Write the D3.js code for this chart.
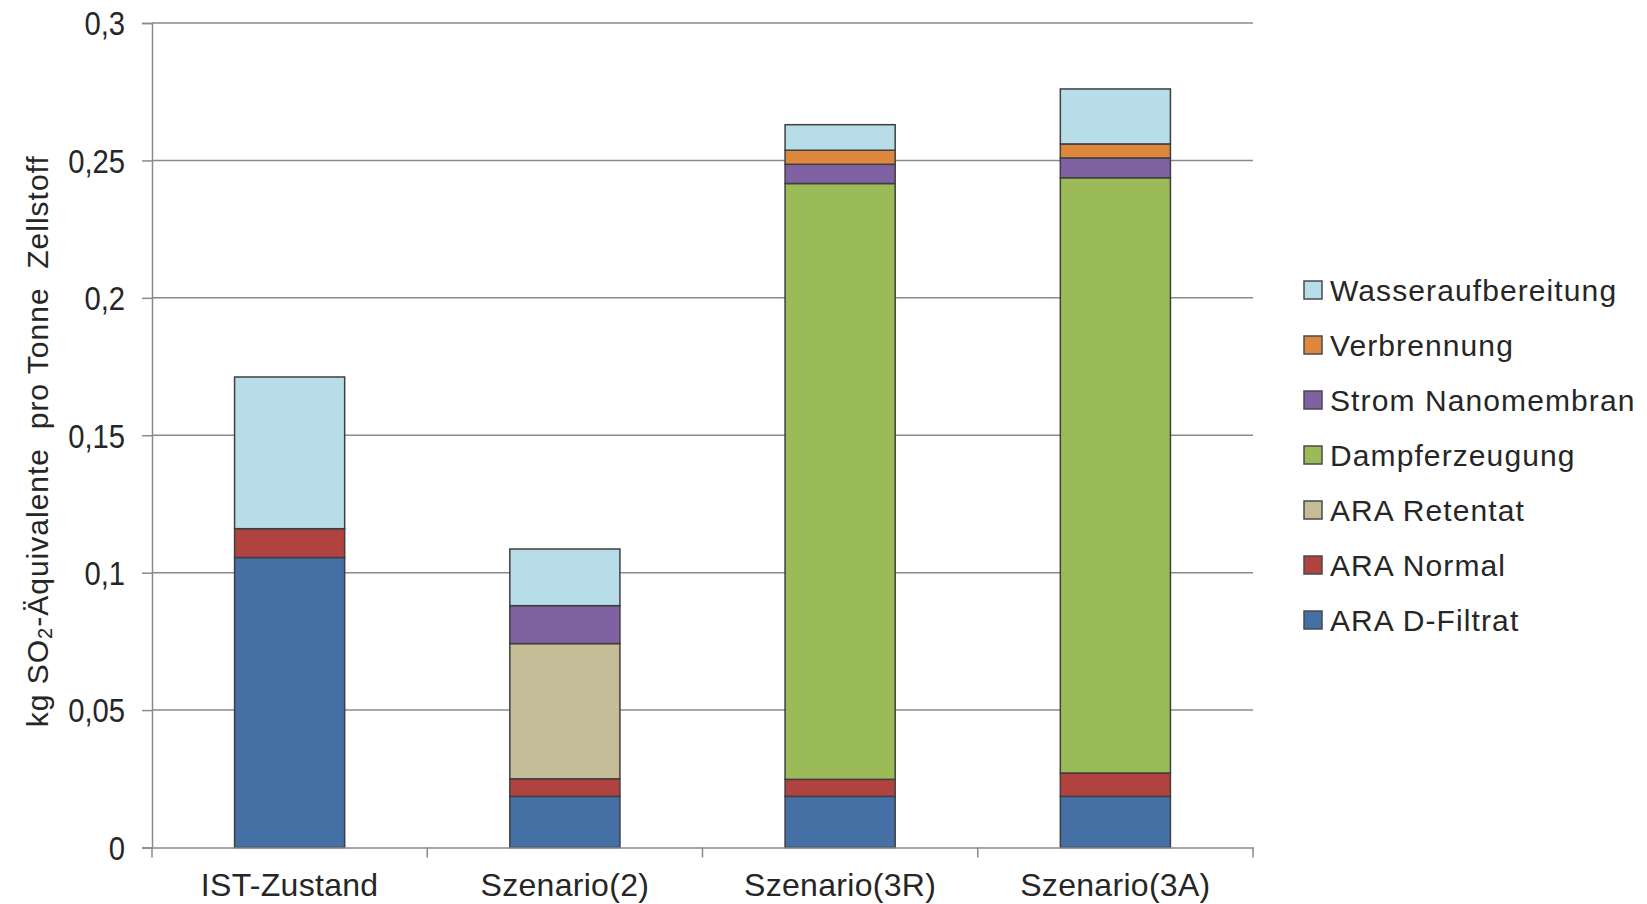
<!DOCTYPE html>
<html>
<head>
<meta charset="utf-8">
<script src="https://cdn.jsdelivr.net/npm/d3@7/dist/d3.min.js"></script>
<style>
  html, body { margin: 0; padding: 0; background: #fff; }
  svg { display: block; font-family: "Liberation Sans", Arial, sans-serif; }
</style>
</head>
<body>
<svg id="chart" width="1647" height="904"></svg>
<script>
// ---- data ----
const categories = ["IST-Zustand", "Szenario(2)", "Szenario(3R)", "Szenario(3A)"];
const seriesNames = ["ARA D-Filtrat", "ARA Normal", "ARA Retentat", "Dampferzeugung", "Strom Nanomembran", "Verbrennung", "Wasseraufbereitung"];
const araDFiltrat       = [0.1055, 0.0186, 0.0186, 0.0186];
const araNormal         = [0.0105, 0.0064, 0.0062, 0.0085];
const araRetentat       = [0,      0.0492, 0,      0     ];
const dampferzeugung    = [0,      0,      0.2168, 0.2166];
const stromNanomembran  = [0,      0.0138, 0.0070, 0.0072];
const verbrennung       = [0,      0,      0.0051, 0.0051];
const wasseraufbereitung= [0.0552, 0.0206, 0.0093, 0.0200];
const seriesColors = ["#4470a6", "#b0423f", "#c4bd97", "#9bbb59", "#7f62a1", "#de883d", "#b7dde8"];
const yTicks = [0, 0.05, 0.1, 0.15, 0.2, 0.25, 0.3];
const yTitle = ["kg SO", "2", "-Äquivalente  pro Tonne  Zellstoff"];

const seriesValues = [araDFiltrat, araNormal, araRetentat, dampferzeugung, stromNanomembran, verbrennung, wasseraufbereitung];

(function () {
// ---- layout ----
const svg = d3.select("#chart");
const mLeft = 152, mRight = 1253, mTop = 23, mBottom = 847.5;
const textColor = "#262626";
const lineColor = "#8a8a8a";
const ff = '"Liberation Sans", Arial, sans-serif';
const squeeze = 0.86;

const x = d3.scaleBand().domain(categories).range([mLeft, mRight]).paddingInner(0.6).paddingOuter(0.3);
const y = d3.scaleLinear().domain([0, 0.3]).range([mBottom, mTop]);

const fmt = d => String(+d.toFixed(2)).replace(".", ",");

// y axis ticks + labels
const yAxis = d3.axisLeft(y).tickValues(yTicks).tickFormat(fmt).tickSize(10).tickPadding(17);
const gy = svg.append("g").attr("transform", `translate(${mLeft},0)`).call(yAxis);
gy.select(".domain").attr("stroke", lineColor).attr("stroke-width", 1.5);
gy.selectAll(".tick line").attr("stroke", lineColor).attr("stroke-width", 1.5);
gy.selectAll(".tick text").attr("fill", textColor).attr("font-size", 34)
  .attr("font-family", ff).attr("dy", "0.35em")
  .attr("x", -27 / squeeze)
  .attr("transform", `scale(${squeeze},1)`);

// gridlines
svg.append("g").selectAll("line").data(yTicks.filter(d => d > 0)).join("line")
  .attr("x1", mLeft).attr("x2", mRight)
  .attr("y1", d => y(d)).attr("y2", d => y(d))
  .attr("stroke", lineColor).attr("stroke-width", 1.5);

// stacked bars
const rows = categories.map((c, i) => {
  const r = { cat: c };
  seriesNames.forEach((s, j) => r[s] = seriesValues[j][i]);
  return r;
});
const stack = d3.stack().keys(seriesNames)(rows);

const gBars = svg.append("g");
stack.forEach((layer, j) => {
  gBars.selectAll(null).data(layer.filter(d => d[1] - d[0] > 0)).join("rect")
    .attr("x", d => x(d.data.cat))
    .attr("width", x.bandwidth())
    .attr("y", d => y(d[1]))
    .attr("height", d => y(d[0]) - y(d[1]))
    .attr("fill", seriesColors[j])
    .attr("stroke", "#3f3f3f")
    .attr("stroke-width", 1.5);
});

// x axis
const xAxis = d3.axisBottom(x).tickSize(0).tickPadding(26);
const gx = svg.append("g").attr("transform", `translate(0,${mBottom})`).call(xAxis);
gx.select(".domain").attr("stroke", lineColor).attr("stroke-width", 1.5);
gx.selectAll(".tick text").attr("fill", textColor).attr("font-size", 32)
  .attr("font-family", ff).style("letter-spacing", "0.3px");

// category boundary ticks
const step = x.step();
const boundaryX = d3.range(categories.length + 1).map(i => mLeft + i * step);
svg.append("g").selectAll("line").data(boundaryX).join("line")
  .attr("x1", d => d).attr("x2", d => d)
  .attr("y1", mBottom).attr("y2", mBottom + 10)
  .attr("stroke", lineColor).attr("stroke-width", 1.5);

// y title
const t = svg.append("text")
  .attr("transform", `translate(40,${(mTop + mBottom) / 2 + 6}) rotate(-90)`)
  .attr("text-anchor", "middle")
  .attr("dominant-baseline", "middle")
  .attr("font-size", 30)
  .attr("fill", textColor)
  .style("letter-spacing", "1px")
  .style("white-space", "pre");
t.append("tspan").text(yTitle[0]);
t.append("tspan").attr("font-size", 20).attr("dy", 7).text(yTitle[1]);
t.append("tspan").attr("dy", -7).text(yTitle[2]);

// legend (reverse order, top = Wasseraufbereitung)
const legendOrder = seriesNames.map((s, j) => ({ name: s, color: seriesColors[j] })).reverse();
const lg = svg.append("g");
const ly = d3.scaleLinear().domain([0, 1]).range([290, 345]);
const items = lg.selectAll("g").data(legendOrder).join("g")
  .attr("transform", (d, i) => `translate(1304,${ly(i)})`);
items.append("rect").attr("x", 0).attr("y", -9).attr("width", 18).attr("height", 18)
  .attr("fill", d => d.color).attr("stroke", "#4a4a4a").attr("stroke-width", 1.5);
items.append("text").attr("x", 26).attr("y", 0).attr("dy", "0.36em")
  .attr("font-size", 30).attr("fill", textColor).style("letter-spacing", "1.1px")
  .text(d => d.name);
})();
</script>
</body>
</html>
